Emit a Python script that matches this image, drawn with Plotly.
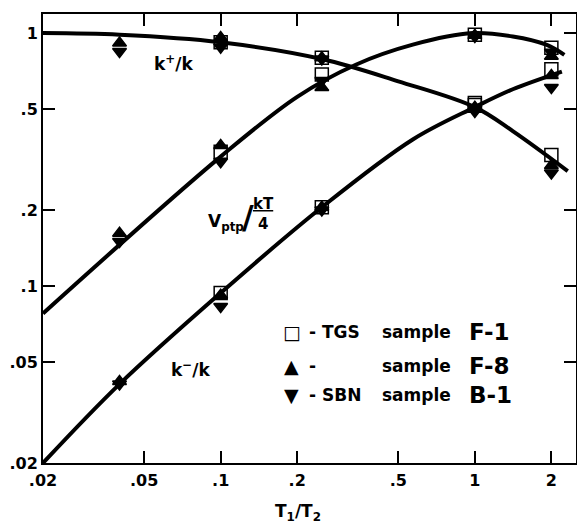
import numpy as np
import plotly.graph_objects as go

# ---- data ----
# smooth curves
kplus_x = [0.02, 0.04, 0.1, 0.25, 0.5, 1.0, 1.41, 2.32]
kplus_y = [1.0, 0.985, 0.92, 0.79, 0.645, 0.51, 0.41, 0.285]

vptp_x = [0.02, 0.1, 0.2, 0.34, 0.57, 0.98, 1.41, 1.91, 2.25]
vptp_y = [0.078, 0.325, 0.56, 0.75, 0.90, 1.0, 0.97, 0.90, 0.82]

kminus_x = [0.02, 0.04, 0.1, 0.25, 0.57, 1.0, 1.41, 2.2]
kminus_y = [0.02, 0.041, 0.094, 0.205, 0.38, 0.51, 0.60, 0.705]

# measured points
tgs_x = [0.1, 0.25, 1.0, 2.0]
tgs_kplus = [0.92, 0.80, 0.53, 0.33]
tgs_vptp = [0.34, 0.686, 0.985, 0.875]
tgs_kminus = [0.094, 0.205, 0.52, 0.72]

f8_x = [0.04, 0.1, 0.25, 1.0, 2.0]
f8_kplus = [0.915, 0.96, 0.80, 0.51, 0.30]
f8_vptp = [0.162, 0.36, 0.61, 0.98, 0.81]
f8_kminus = [0.042, 0.092, 0.205, 0.50, 0.68]

sbn_x = [0.04, 0.1, 0.25, 1.0, 2.0]
sbn_kplus = [0.845, 0.88, 0.79, 0.50, 0.28]
sbn_vptp = [0.15, 0.31, 0.65, 0.97, 0.84]
sbn_kminus = [0.041, 0.083, 0.200, 0.49, 0.61]

x_tickvals = [0.02, 0.05, 0.1, 0.2, 0.5, 1, 2]
x_ticktext = [".02", ".05", ".1", ".2", ".5", "1", "2"]
y_tickvals = [0.02, 0.05, 0.1, 0.2, 0.5, 1]
y_ticktext = [".02", ".05", ".1", ".2", ".5", "1"]

FONT = "DejaVu Sans"
fig = go.Figure()

for cx, cy in [(kplus_x, kplus_y), (vptp_x, vptp_y), (kminus_x, kminus_y)]:
    fig.add_trace(go.Scatter(x=cx, y=cy, mode="lines",
                             line=dict(color="black", width=4, shape="spline", smoothing=1),
                             showlegend=False, hoverinfo="skip"))

def pts(x, ys, symbol, size):
    for y in ys:
        fig.add_trace(go.Scatter(
            x=x, y=y, mode="markers", showlegend=False,
            marker=dict(symbol=symbol, size=size, color="black",
                        line=dict(color="black", width=1.5))))

pts(tgs_x, [tgs_kplus, tgs_vptp, tgs_kminus], "square-open", 13)
pts(f8_x, [f8_kplus, f8_vptp, f8_kminus], "triangle-up", 12)
pts(sbn_x, [sbn_kplus, sbn_vptp, sbn_kminus], "triangle-down", 12)

L = np.log10
ann = []
def txt(x, y, t, size=17, xanchor="center", yanchor="middle", ref="data"):
    if ref == "data":
        xx, yy, xr, yr = L(x), L(y), "x", "y"
    else:
        xx, yy, xr, yr = x, y, "paper", "paper"
    ann.append(dict(x=xx, y=yy, xref=xr, yref=yr, text=t, showarrow=False,
                    xanchor=xanchor, yanchor=yanchor,
                    font=dict(family=FONT, size=size, color="black", weight="bold")))

txt(0.0654, 0.765, "k<sup>+</sup>/k")
txt(0.0764, 0.0471, "k<sup>\u2212</sup>/k")
txt(0.0875, 0.179, "V<sub>ptp</sub>", xanchor="left")
txt(0.128, 0.187, "/", size=32)
txt(0.147, 0.192, "<u>kT</u><br>4", size=15)

# legend block (paper coords)
def px2paper(px, py):
    return (px - 43.3) / 532.4, (463 - py) / 449.0

rows = [("\u25A1", "- TGS", "F-1", 332),
        ("\u25B2", "-", "F-8", 366),
        ("\u25BC", "- SBN", "B-1", 395)]
for sym, lab, code, py in rows:
    x0, y0 = px2paper(292, py)
    txt(x0, y0, sym, size=19, ref="paper")
    x1, _ = px2paper(307, py)
    txt(x1, y0, lab, size=17, xanchor="left", ref="paper")
    x2, _ = px2paper(380, py)
    txt(x2, y0, "sample", size=17, xanchor="left", ref="paper")
    x3, _ = px2paper(467, py)
    txt(x3, y0, code, size=23, xanchor="left", ref="paper")

tx, ty = px2paper(298, 512)
txt(tx, ty, "T<sub>1</sub>/T<sub>2</sub>", size=17, ref="paper")

axis_common = dict(type="log", showgrid=False, zeroline=False, showline=True,
                   linecolor="black", linewidth=2, mirror="ticks", ticks="inside",
                   ticklen=12, tickwidth=1.5, tickcolor="black", automargin=False,
                   tickfont=dict(family=FONT, size=16, color="black", weight="bold"))

fig.update_xaxes(range=[L(0.02), L(2.5)], tickvals=x_tickvals, ticktext=x_ticktext,
                 ticklabelstandoff=2, **axis_common)
fig.update_yaxes(range=[L(0.02), L(1.19)], tickvals=y_tickvals, ticktext=y_ticktext,
                 **axis_common)

fig.update_layout(width=577, height=526, margin=dict(l=43, r=1, t=14, b=63),
                  plot_bgcolor="white", paper_bgcolor="white", annotations=ann)

fig.write_html("out.html", config={"displayModeBar": False},
               post_script="document.body.style.margin='0';document.body.style.overflow='hidden';")
